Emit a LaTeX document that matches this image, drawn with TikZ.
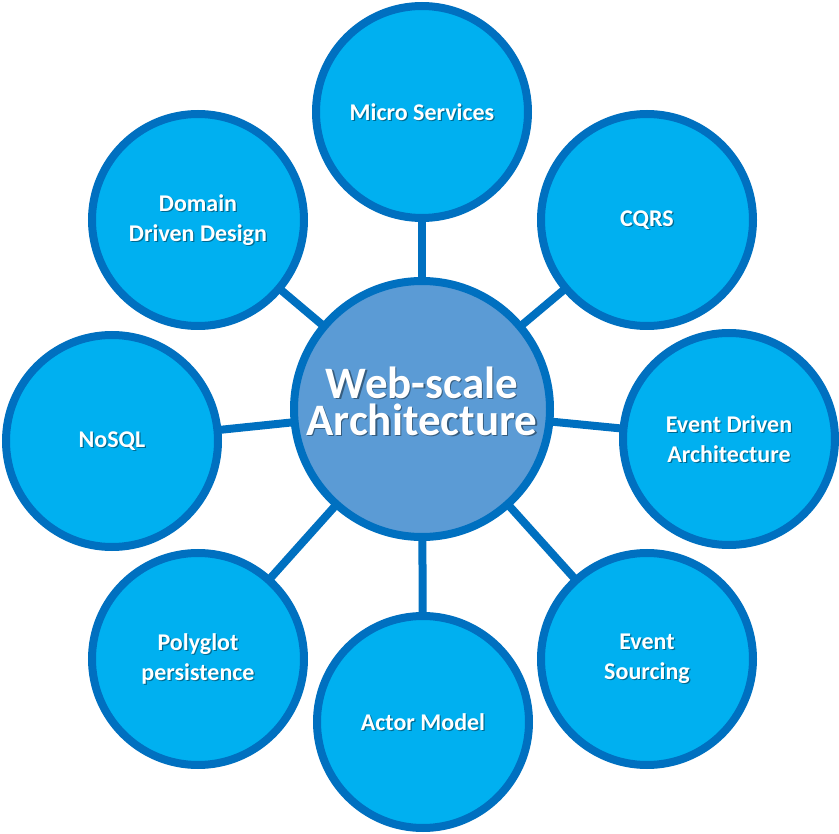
\documentclass[tikz,border=0pt]{standalone}
\usepackage{fontspec}
\setmainfont{Carlito}
\usetikzlibrary{backgrounds}
\definecolor{sky}{HTML}{00B0F0}
\definecolor{rim}{HTML}{0070C0}
\definecolor{hubfill}{HTML}{5B9BD5}

\begin{document}
\begin{tikzpicture}[x=1pt,y=-1pt,
  smalltxt/.style={align=center,font=\bfseries\fontsize{24}{30}\selectfont},
  bigtxt/.style={align=center,font=\bfseries\fontsize{45}{37}\selectfont,yshift=8pt},
  shd/.style={text=black,text opacity=0.4,xshift=1.2pt,yshift=-1.2pt},
  wht/.style={text=white},
  topic/.style={circle,draw=rim,line width=8pt,fill=sky,minimum size=212pt,inner sep=0pt,
    label={[smalltxt,shd]center:#1},label={[smalltxt,wht]center:#1}},
  hub/.style={circle,draw=rim,line width=8pt,fill=hubfill,minimum size=256pt,inner sep=0pt,
    label={[bigtxt,shd]center:#1},label={[bigtxt,wht]center:#1}},
  link/.style={draw=rim,line width=8pt}]
 \useasboundingbox (0,0) rectangle (839,834);
 % centre and the eight topics round it
 \node[hub={Web-scale\\Architecture}] (web) at (422,409) {};
 \node[topic={Micro Services}] (micro) at (422,112) {};
 \node[topic={CQRS}] (cqrs) at (647,220) {};
 \node[topic={Event Driven\\Architecture}] (eda) at (729,439) {};
 \node[topic={Event\\Sourcing}] (sourcing) at (647,659) {};
 \node[topic={Actor Model}] (actor) at (423,722) {};
 \node[topic={Polyglot\\persistence}] (polyglot) at (198,659) {};
 \node[topic={NoSQL}] (nosql) at (112,441) {};
 \node[topic={Domain\\Driven Design}] (ddd) at (198,220) {};
 \begin{scope}[on background layer]
  \draw[link] (web.center) -- (micro.center);
  \draw[link] (web.center) -- (cqrs.center);
  \draw[link] (web.center) -- (eda.center);
  \draw[link] (web.center) -- (sourcing.center);
  \draw[link] (web.center) -- (actor.center);
  \draw[link] (web.center) -- (polyglot.center);
  \draw[link] (web.center) -- (nosql.center);
  \draw[link] (web.center) -- (ddd.center);
 \end{scope}
\end{tikzpicture}
\end{document}
